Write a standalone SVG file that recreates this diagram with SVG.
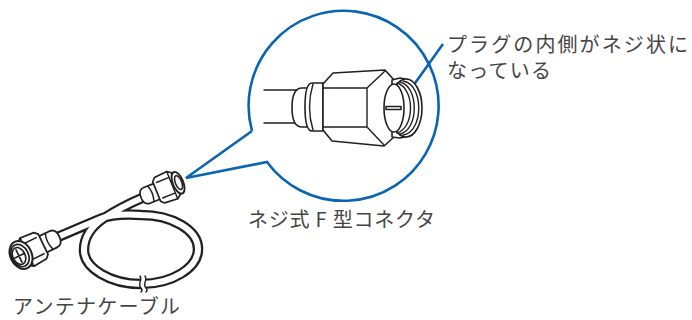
<svg xmlns="http://www.w3.org/2000/svg" xmlns:xlink="http://www.w3.org/1999/xlink" width="692" height="320" viewBox="0 0 692 320">
<style>
.ln{fill:#fff;stroke:#231f20;stroke-width:1.6;stroke-linejoin:round;stroke-linecap:round}
.nf{fill:none;stroke:#231f20;stroke-width:1.4;stroke-linecap:round}
.sm .ln{stroke-width:1.8}
.sm .nf{stroke-width:1.5}
.blue{fill:none;stroke:#0a64b4;stroke-width:2.6;stroke-linejoin:miter}
.lbl{font-family:"Noto Sans CJK JP","Noto Sans",sans-serif;fill:#454545;font-size:20px}
</style>
<defs>
<g id="smallBody">
  <path class="ln" d="M22,-8 H34 Q40,-8 40,0 Q40,8 34,8 H22 Z"/>
  <path class="nf" d="M30,-8 Q27,0 30,8"/>
  <path class="ln" d="M4,-11 L8,-14 L21,-13 L24,-10 L24,10 L21,13 L8,14 L4,11 Z"/>
  <path class="nf" d="M8,-8 H21 M8,8 H21 M8,-14 V14"/>
</g>
</defs>

<g id="connectors">
  <path id="callout" class="blue" d="M252,131 L186,178 L267,162 A95,95 0 1 0 252,131"/>
  <path id="leader" class="blue" d="M408,93 L443,44"/>
</g>

<g id="cable">
  <path d="M53,239 C70,232 88,224 100,219 C112,214 126,214 141,215 C172,215 198,230 198,249 C198,268 172,284 141,284 C110,284 84,268 84,250 C84,236 92,226 104,218 C115,211 128,204 142,198" fill="none" stroke="#231f20" stroke-width="10.5"/>
  <path d="M53,239 C70,232 88,224 100,219 C112,214 126,214 141,215 C172,215 198,230 198,249 C198,268 172,284 141,284 C110,284 84,268 84,250 C84,236 92,226 104,218 C115,211 128,204 142,198" fill="none" stroke="#fff" stroke-width="6"/>
  <path d="M140,276 C143,280 137,284 141,288 C143,290 141,292 141,292 L146,292 C146,292 148,290 146,288 C142,284 148,280 145,276 Z" fill="#fff" stroke="none"/>
  <path class="nf" d="M140,276 C143,280 137,284 141,288 C143,290 141,292 141,292 M145,276 C148,280 142,284 146,288 C148,290 146,292 146,292"/>
</g>

<g id="leftConnector" class="sm" transform="translate(19,256) rotate(-26) scale(1.12)">
  <use xlink:href="#smallBody"/>
  <ellipse class="ln" cx="2" cy="0" rx="9.5" ry="13"/>
  <ellipse class="nf" cx="1" cy="0" rx="7.5" ry="10.5"/>
  <ellipse class="nf" cx="0" cy="0" rx="5.5" ry="8"/>
  <path class="nf" d="M-4,0 H5 M0,-6 V6"/>
</g>

<g id="upperConnector" class="sm" transform="translate(180,182) rotate(158) scale(1.05)">
  <use xlink:href="#smallBody"/>
  <ellipse class="ln" cx="2" cy="0" rx="5" ry="11"/>
  <ellipse class="nf" cx="1.5" cy="0" rx="3" ry="7"/>
</g>

<g id="bigConnector">
  <path class="nf" d="M264,90 H298 M264,123 H298"/>
  <path class="ln" d="M310,88 H302 Q292,88 292,107.5 Q292,127 302,127 H310 Z"/>
  <path class="ln" d="M323,83 H312 Q305,83 305,107 Q305,131 312,131 H323 Z"/>
  <path class="nf" d="M313,84 Q306,107 313,130"/>
  <path class="ln" d="M323,84 L333,73 L385,70 L394,80 L394,137 L384,146 L332,141 L323,130 Z"/>
  <path class="nf" d="M323,88 H367 M323,127 H367 M367,88 V127 M367,88 L385,71 M367,127 L384,145"/>
  <path class="ln" d="M392,80 L400,78 L410,80 L410,136 L400,138 L392,137 Z"/>
  <ellipse class="ln" cx="406" cy="108" rx="16" ry="29"/>
  <path class="nf" d="M403,81 C424,84 424,132 403,135 M400,82 C419,86 419,130 400,134 M397,83 C415,88 415,128 397,133"/>
  <ellipse class="ln" cx="394" cy="108" rx="10" ry="24"/>
  <path class="ln" d="M386,106.5 H401 V109.5 H386 Z"/>
</g>

<g id="labels">
  <text class="lbl" x="447" y="52" textLength="241" lengthAdjust="spacing">プラグの内側がネジ状に</text>
  <text class="lbl" x="447" y="78" textLength="104" lengthAdjust="spacing">なっている</text>
  <text class="lbl" x="248" y="227" textLength="187" lengthAdjust="spacing">ネジ式 F 型コネクタ</text>
  <text class="lbl" x="13" y="314" textLength="167" lengthAdjust="spacing">アンテナケーブル</text>
</g>
</svg>
